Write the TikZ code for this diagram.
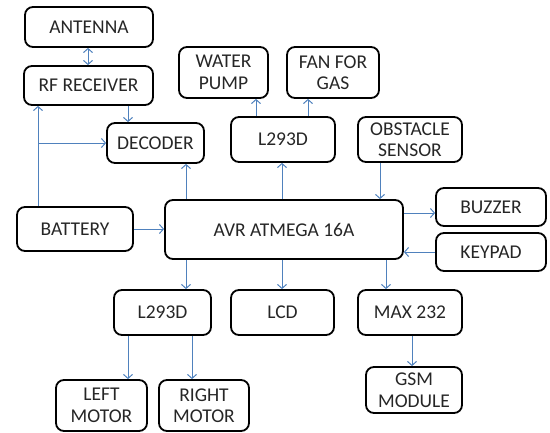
\documentclass[tikz,border=0pt]{standalone}
\usepackage{fontspec}
\setmainfont{Carlito}
\usetikzlibrary{arrows.meta}
\definecolor{arrblue}{RGB}{79,129,189}
\begin{document}
\begin{tikzpicture}[x=1pt,y=-1pt,
  box/.style={draw=black,line width=1.8pt,rounded corners=8pt,inner sep=0pt,align=center,
    font=\fontsize{19.5}{21.5}\selectfont,text=black!85},
  arr/.style={draw=arrblue,line width=1pt,-{Straight Barb[length=4pt,width=9pt]}},
  darr/.style={draw=arrblue,line width=1pt,{Straight Barb[length=4pt,width=9pt]}-{Straight Barb[length=4pt,width=9pt]}}]
\useasboundingbox (0,0) rectangle (550,432);
\node[box,minimum width=128,minimum height=40] (antenna) at (89,27) {ANTENNA};
\node[box,minimum width=129,minimum height=39] (rf) at (88.5,85.5) {RF RECEIVER};
\node[box,minimum width=97,minimum height=40] (decoder) at (155.5,143) {DECODER};
\node[box,minimum width=89,minimum height=51] (pump) at (223.5,72.5) {WATER\\PUMP};
\node[box,minimum width=104,minimum height=45] (l293top) at (283,139.5) {L293D};
\node[box,minimum width=92,minimum height=51] (fan) at (333,72.5) {FAN FOR\\GAS};
\node[box,minimum width=104,minimum height=45] (obstacle) at (410,139.5) {OBSTACLE\\SENSOR};
\node[box,minimum width=238,minimum height=59] (avr) at (284,229.5) {AVR ATMEGA 16A};
\node[box,minimum width=110,minimum height=38] (buzzer) at (491,207) {BUZZER};
\node[box,minimum width=110,minimum height=38] (keypad) at (491,252) {KEYPAD};
\node[box,minimum width=116,minimum height=44] (battery) at (75,229) {BATTERY};
\node[box,minimum width=97,minimum height=45] (l293bot) at (162.5,312.5) {L293D};
\node[box,minimum width=103,minimum height=45] (lcd) at (282.5,312.5) {LCD};
\node[box,minimum width=104,minimum height=45] (max) at (410,312.5) {MAX 232};
\node[box,minimum width=96,minimum height=46] (gsm) at (414,390) {GSM\\MODULE};
\node[box,minimum width=91,minimum height=51] (left) at (101.5,405.5) {LEFT\\MOTOR};
\node[box,minimum width=90,minimum height=51] (right) at (204,405.5) {RIGHT\\MOTOR};

\draw[darr] (88,0 |- antenna.south) -- (88,0 |- rf.north);
\draw[arr] (128,0 |- rf.south) -- (128,0 |- decoder.north);
\draw[arr] (38,0 |- battery.north) -- (38,0 |- rf.south);
\draw[arr] (38,0 |- decoder.west) -- (decoder.west);
\draw[arr] (186,0 |- avr.north) -- (186,0 |- decoder.south);
\draw[arr] (256,0 |- l293top.north) -- (256,0 |- pump.south);
\draw[arr] (308,0 |- l293top.north) -- (308,0 |- fan.south);
\draw[arr] (282,0 |- avr.north) -- (282,0 |- l293top.south);
\draw[arr] (380,0 |- obstacle.south) -- (380,0 |- avr.north);
\draw[arr] (avr.east |- 0,213) -- (buzzer.west |- 0,213);
\draw[arr] (keypad.west) -- (avr.east |- keypad.west);
\draw[arr] (battery.east) -- (avr.west |- battery.east);
\draw[arr] (186,0 |- avr.south) -- (186,0 |- l293bot.north);
\draw[arr] (282,0 |- avr.south) -- (282,0 |- lcd.north);
\draw[arr] (386,0 |- avr.south) -- (386,0 |- max.north);
\draw[arr] (412,0 |- max.south) -- (412,0 |- gsm.north);
\draw[arr] (128,0 |- l293bot.south) -- (128,0 |- left.north);
\draw[arr] (192,0 |- l293bot.south) -- (192,0 |- right.north);
\end{tikzpicture}
\end{document}
